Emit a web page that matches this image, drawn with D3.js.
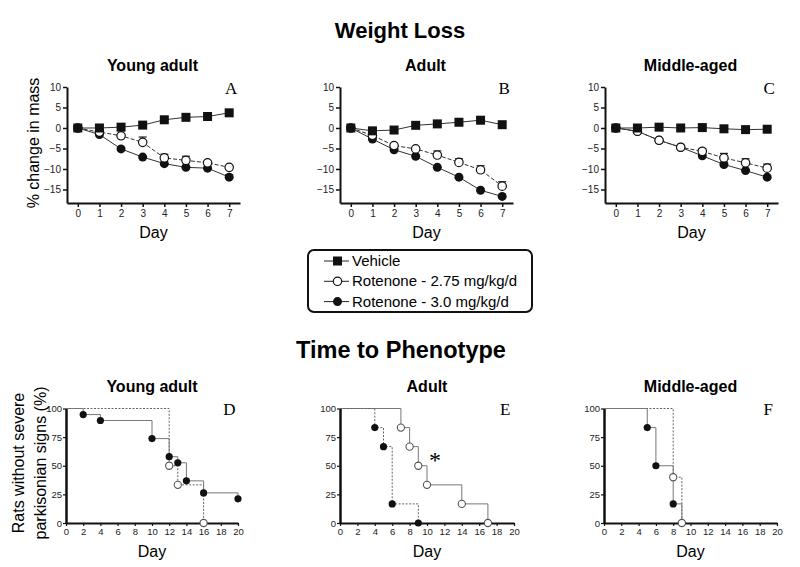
<!DOCTYPE html>
<html><head><meta charset="utf-8">
<script src="https://cdn.jsdelivr.net/npm/d3@7"></script>
<style>body{margin:0;background:#fff}svg{display:block}</style>
</head><body>
<svg id="c" width="800" height="567"></svg>
<script>
// ---------- DATA ----------
const days = [0,1,2,3,4,5,6,7];
const wlTitles = ["Young adult","Adult","Middle-aged"];
const wlLetters = ["A","B","C"];
const yTicksWL = [10,5,0,-5,-10,-15];
// Panel A
const vehA   = [0,0,0.2,0.7,2.0,2.6,2.8,3.7];
const r275A  = [0,-1.0,-1.9,-3.5,-7.3,-7.9,-8.5,-9.6];
const r30A   = [0,-1.6,-5.1,-7.1,-8.7,-9.6,-9.8,-12.0];
const e275A  = [0,0,0.3,1.3,0.9,1.0,0.4,0.4];
const e30A   = [0,0,0,0,0,0,0,0.6];
// Panel B
const vehB   = [0,-0.7,-0.5,0.65,1.0,1.4,1.9,0.8];
const r275B  = [0,-1.8,-4.3,-5.1,-6.6,-8.4,-10.2,-14.2];
const r30B   = [0,-2.7,-5.3,-6.9,-9.6,-12.0,-15.2,-16.7];
const e275B  = [0,0,0,0,1.0,0.9,1.0,1.1];
const e30B   = [0,0,0,0,0,0,0,0];
// Panel C
const vehC   = [0,0,0.2,0,0.1,-0.2,-0.4,-0.3];
const r275C  = [0,-0.8,-3.0,-4.7,-5.7,-7.3,-8.5,-9.8];
const r30C   = [0,-0.8,-3.0,-4.7,-6.8,-8.9,-10.4,-12.0];
const e275C  = [0,0,0,0,0.7,1.1,1.0,1.0];
const e30C   = [0,0,0,0,0,0,0,0];
const legendLabels = ["Vehicle","Rotenone - 2.75 mg/kg/d","Rotenone - 3.0 mg/kg/d"];

// Time to phenotype (Kaplan-Meier): event days and survival % after each event
const kmTitles = ["Young adult","Adult","Middle-aged"];
const kmLetters = ["D","E","F"];
const kmXTicks = [0,2,4,6,8,10,12,14,16,18,20];
const kmYTicks = [0,25,50,75,100];
const kmD30Days  = [2,4,10,12,13,14,16,20];
const kmD30Vals  = [94.7,89.5,73.7,57.9,52.6,36.8,26.3,21.1];
const kmD275Days = [12,13,16];
const kmD275Vals = [50,33.3,0];
const kmE30Days  = [4,5,6,9];
const kmE30Vals  = [83.3,66.7,16.7,0];
const kmE275Days = [7,8,9,10,14,17];
const kmE275Vals = [83.3,66.7,50,33.3,16.7,0];
const kmF30Days  = [5,6,8,9];
const kmF30Vals  = [83.3,50,16.7,0];
const kmF275Days = [8,9];
const kmF275Vals = [40,0];

// ---------- DRAW ----------
const svg = d3.select("#c");
const FONT = "Arial, 'Liberation Sans', Helvetica, sans-serif";
const SERIF = "'Times New Roman', 'Liberation Serif', serif";

svg.append("text").attr("x",400).attr("y",38).attr("text-anchor","middle")
  .attr("font-family",FONT).attr("font-weight","bold").attr("font-size",22).text("Weight Loss");
svg.append("text").attr("x",401).attr("y",358).attr("text-anchor","middle")
  .attr("font-family",FONT).attr("font-weight","bold").attr("font-size",23.5).text("Time to Phenotype");

const wlData = [
  {veh:vehA,r275:r275A,r30:r30A,e275:e275A,e30:e30A,x0:67,x1:240},
  {veh:vehB,r275:r275B,r30:r30B,e275:e275B,e30:e30B,x0:340,x1:513},
  {veh:vehC,r275:r275C,r30:r30C,e275:e275C,e30:e30C,x0:605,x1:778}
];

wlData.forEach((p,i)=>{
  const x = d3.scaleLinear().domain([-0.5,7.5]).range([p.x0,p.x1]);
  const y = d3.scaleLinear().domain([-18.3,10]).range([203,87]);
  const g = svg.append("g");
  const ya = g.append("g").attr("transform",`translate(${p.x0},0)`)
    .call(d3.axisLeft(y).tickValues(yTicksWL).tickSize(4).tickPadding(2).tickSizeOuter(0));
  const xa = g.append("g").attr("transform",`translate(0,203)`)
    .call(d3.axisBottom(x).tickValues(days).tickSize(4).tickPadding(3).tickSizeOuter(0));
  [ya,xa].forEach(a=>{
    a.select(".domain").attr("stroke","#111").attr("stroke-width",2);
    a.selectAll(".tick line").attr("stroke","#111").attr("stroke-width",1.5);
    a.selectAll("text").attr("font-family",FONT).attr("font-size",10).attr("fill","#222");
  });
  g.append("text").attr("x",(p.x0+p.x1)/2 - 1).attr("y",71).attr("text-anchor","middle")
    .attr("font-family",FONT).attr("font-weight","bold").attr("font-size",16).text(wlTitles[i]);
  g.append("text").attr("x",x(7)+2).attr("y",94).attr("text-anchor","middle")
    .attr("font-family",SERIF).attr("font-size",17).text(wlLetters[i]);
  g.append("text").attr("x",(p.x0+p.x1)/2).attr("y",238).attr("text-anchor","middle")
    .attr("font-family",FONT).attr("font-size",16).text("Day");
  const line = d3.line().x((d,j)=>x(days[j])).y(d=>y(d));
  [[p.r275,p.e275],[p.r30,p.e30]].forEach(([v,e])=>{
    v.forEach((d,j)=>{
      if(e[j]>0){
        g.append("line").attr("x1",x(days[j])).attr("x2",x(days[j]))
          .attr("y1",y(d)).attr("y2",y(d+e[j])).attr("stroke","#222").attr("stroke-width",1);
        g.append("line").attr("x1",x(days[j])-4).attr("x2",x(days[j])+4)
          .attr("y1",y(d+e[j])).attr("y2",y(d+e[j])).attr("stroke","#222").attr("stroke-width",1.2);
      }
    });
  });
  g.append("path").datum(p.r30).attr("d",line).attr("fill","none").attr("stroke","#333").attr("stroke-width",1);
  g.append("path").datum(p.r275).attr("d",line).attr("fill","none").attr("stroke","#333").attr("stroke-width",1).attr("stroke-dasharray","4,2");
  g.append("path").datum(p.veh).attr("d",line).attr("fill","none").attr("stroke","#333").attr("stroke-width",1);
  p.r30.forEach((d,j)=>g.append("circle").attr("cx",x(days[j])).attr("cy",y(d)).attr("r",4.5).attr("fill","#111"));
  p.r275.forEach((d,j)=>g.append("circle").attr("cx",x(days[j])).attr("cy",y(d)).attr("r",4.2).attr("fill","#fff").attr("stroke","#111").attr("stroke-width",1.2));
  p.veh.forEach((d,j)=>g.append("rect").attr("x",x(days[j])-4.5).attr("y",y(d)-4.5).attr("width",9).attr("height",9).attr("fill","#111"));
});

// legend
const lg = svg.append("g");
lg.append("rect").attr("x",308).attr("y",250).attr("width",224).attr("height",62).attr("rx",6)
  .attr("fill","#fff").attr("stroke","#111").attr("stroke-width",2);
legendLabels.forEach((t,i)=>{
  const cy = 261 + i*20.3;
  lg.append("line").attr("x1",324).attr("x2",349).attr("y1",cy).attr("y2",cy).attr("stroke","#222").attr("stroke-width",1);
  if(i===0) lg.append("rect").attr("x",333).attr("y",cy-4.5).attr("width",9).attr("height",9).attr("fill","#111");
  else if(i===1) lg.append("circle").attr("cx",337.5).attr("cy",cy).attr("r",4.2).attr("fill","#fff").attr("stroke","#111").attr("stroke-width",1.2);
  else lg.append("circle").attr("cx",337.5).attr("cy",cy).attr("r",4.5).attr("fill","#111");
  lg.append("text").attr("x",352).attr("y",cy+5).attr("font-family",FONT).attr("font-size",15).text(t);
});

svg.append("text").attr("transform","translate(39,143) rotate(-90)").attr("text-anchor","middle")
  .attr("font-family",FONT).attr("font-size",16).text("% change in mass");

// KM panels
const kmData = [
  {x0:66,x1:238, s30:[kmD30Days,kmD30Vals,"solid"], s275:[kmD275Days,kmD275Vals,"dot"]},
  {x0:340,x1:514, s30:[kmE30Days,kmE30Vals,"dot"], s275:[kmE275Days,kmE275Vals,"solid"]},
  {x0:604,x1:777, s30:[kmF30Days,kmF30Vals,"solid"], s275:[kmF275Days,kmF275Vals,"dot"]}
];
kmData.forEach((p,i)=>{
  const x = d3.scaleLinear().domain([0,20]).range([p.x0,p.x1]);
  const y = d3.scaleLinear().domain([0,100]).range([523,408.5]);
  const g = svg.append("g");
  const ya = g.append("g").attr("transform",`translate(${p.x0},0)`)
    .call(d3.axisLeft(y).tickValues(kmYTicks).tickSize(3).tickPadding(1).tickSizeOuter(0));
  const xa = g.append("g").attr("transform",`translate(0,523)`)
    .call(d3.axisBottom(x).tickValues(kmXTicks).tickSize(3).tickPadding(2).tickSizeOuter(0));
  ya.select(".domain").attr("stroke","#111").attr("stroke-width",2.5);
  xa.select(".domain").attr("stroke","#111").attr("stroke-width",2);
  [ya,xa].forEach(a=>{
    a.selectAll(".tick line").attr("stroke","#111").attr("stroke-width",1.2);
    a.selectAll("text").attr("font-family",FONT).attr("font-size",9.5).attr("fill","#222");
  });
  g.append("text").attr("x",(p.x0+p.x1)/2).attr("y",392).attr("text-anchor","middle")
    .attr("font-family",FONT).attr("font-weight","bold").attr("font-size",16).text(kmTitles[i]);
  g.append("text").attr("x",x(19)).attr("y",415).attr("text-anchor","middle")
    .attr("font-family",SERIF).attr("font-size",17).text(kmLetters[i]);
  g.append("text").attr("x",(p.x0+p.x1)/2).attr("y",557).attr("text-anchor","middle")
    .attr("font-family",FONT).attr("font-size",16).text("Day");
  const stepPts = (ds,vs)=>{
    const pts=[[0,100]]; let prev=100;
    ds.forEach((d,k)=>{pts.push([d,prev]); pts.push([d,vs[k]]); prev=vs[k];});
    return pts;
  };
  const line = d3.line().x(d=>x(d[0])).y(d=>y(d[1]));
  [p.s275,p.s30].forEach(s=>{
    g.append("path").datum(stepPts(s[0],s[1])).attr("d",line).attr("fill","none")
      .attr("stroke", s[2]==="dot" ? "#666" : "#777").attr("stroke-width",1)
      .attr("stroke-dasharray", s[2]==="dot" ? "2,1.5" : null);
  });
  p.s30[0].forEach((d,k)=>g.append("circle").attr("cx",x(d)).attr("cy",y(p.s30[1][k])).attr("r",3.6).attr("fill","#111"));
  p.s275[0].forEach((d,k)=>g.append("circle").attr("cx",x(d)).attr("cy",y(p.s275[1][k])).attr("r",3.6).attr("fill","#fff").attr("stroke","#555").attr("stroke-width",1.1));
  if(i===1){
    g.append("text").attr("x",435).attr("y",468).attr("text-anchor","middle")
      .attr("font-family",SERIF).attr("font-size",24).text("*");
  }
});
svg.append("text").attr("transform","translate(24,463) rotate(-90)").attr("text-anchor","middle")
  .attr("font-family",FONT).attr("font-size",16).text("Rats without severe");
svg.append("text").attr("transform","translate(46,463) rotate(-90)").attr("text-anchor","middle")
  .attr("font-family",FONT).attr("font-size",16).text("parkisonian signs (%)");
</script>
</body></html>
